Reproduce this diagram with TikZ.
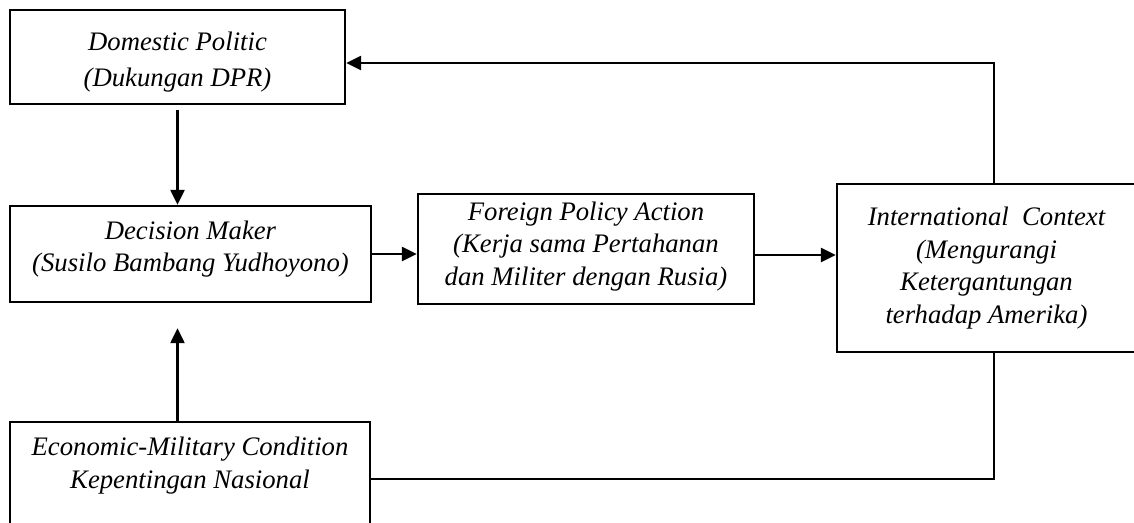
\documentclass[tikz,border=0pt]{standalone}
\usepackage{fontspec}
\setmainfont{Liberation Serif}
\usetikzlibrary{arrows.meta}

\begin{document}
\begin{tikzpicture}[x=0.02cm, y=-0.02cm,
    box/.style={draw, line width=1.4pt, align=center, inner sep=0pt,
        font=\itshape\fontsize{15.2}{18.5}\selectfont},
    arr/.style={line width=1.4pt, -{Triangle[length=0.3cm, width=0.28cm]}}]
    \clip (0,0) rectangle (1134,522);
    \node[box, minimum width=6.7cm, minimum height=1.88cm] (dom) at (177.5,57) {\raisebox{-0.1cm}[\height][\depth]{\begin{tabular}{@{}c@{}}Domestic Politic\\[0.08cm](Dukungan DPR)\end{tabular}}};
    \node[box, minimum width=7.22cm, minimum height=1.92cm] (dec) at (190.5,254) {\raisebox{0.1cm}[\height][\depth]{\begin{tabular}{@{}c@{}}Decision Maker\\(Susilo Bambang Yudhoyono)\end{tabular}}};
    \node[box, minimum width=6.72cm, minimum height=2.2cm] (fol) at (586,249) {\raisebox{0.06cm}[\height][\depth]{\begin{tabular}{@{}c@{}}Foreign Policy Action\\(Kerja sama Pertahanan\\dan Militer dengan Rusia)\end{tabular}}};
    \node[box, minimum width=5.98cm, minimum height=3.36cm] (intl) at (986.5,268) {International~~Context\\(Mengurangi\\Ketergantungan\\terhadap Amerika)};
    \node[box, minimum width=7.2cm, minimum height=2.28cm] (econ) at (190,479) {\raisebox{1.06cm}{\begin{tabular}{@{}c@{}}Economic-Military Condition\\Kepentingan Nasional\end{tabular}}};
    \coordinate (turn) at (994,63);
    \draw[arr, shorten <=0.1cm] (dom.south) -- (dom.south |- dec.north);
    \draw[arr, shorten >=0.5cm] (dom.south |- econ.north) -- (dom.south |- dec.south);
    \draw[arr] (dec.east) -- (dec.east -| fol.west);
    \draw[arr] ([yshift=-0.12cm]fol.east) -- ([yshift=-0.12cm]fol.east -| intl.west);
    \draw[arr] (intl.north -| turn) |- ([yshift=-0.12cm]dom.east);
    \draw[line width=1.4pt] (intl.south -| turn) |- (econ.east);
\end{tikzpicture}
\end{document}
